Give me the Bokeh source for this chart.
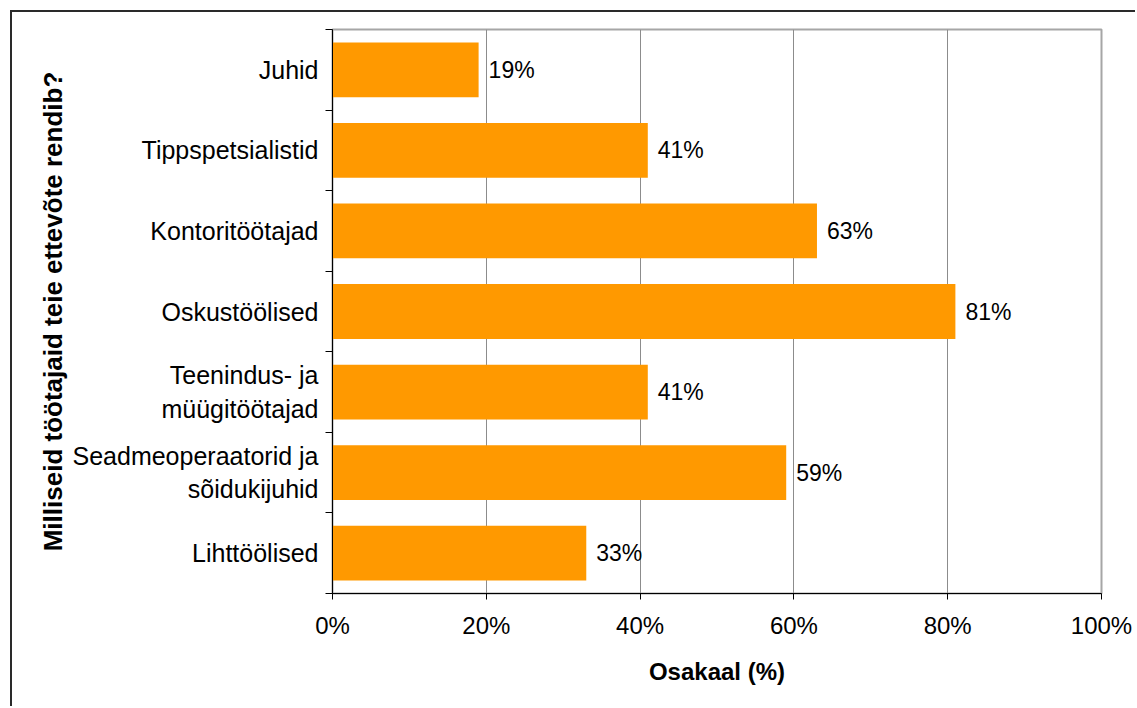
from bokeh.plotting import figure
from bokeh.models import ColumnDataSource, Range1d, FixedTicker, PrintfTickFormatter
from bokeh.core.properties import value
from bokeh.embed import file_html
from bokeh.resources import INLINE

# Employee groups (top to bottom) and the share of firms renting them, in %
categories = [
    "Juhid",
    "Tippspetsialistid",
    "Kontoritöötajad",
    "Oskustöölised",
    "Teenindus- ja\nmüügitöötajad",
    "Seadmeoperaatorid ja\nsõidukijuhid",
    "Lihttöölised",
]
shares = [19, 41, 63, 81, 41, 59, 33]
x_ticks = [0, 20, 40, 60, 80, 100]

FONT = "Liberation Sans"
BAR_COLOR = "#FF9900"

n = len(categories)
pos = [n - 1 - i for i in range(n)]
source = ColumnDataSource(dict(
    pos=pos,
    share=shares,
    label=[f"{s}%" for s in shares],
))

p = figure(
    width=1125, height=696,
    x_range=Range1d(0, 100), y_range=Range1d(-0.5, n - 0.5),
    output_backend="svg", toolbar_location=None,
    min_border_left=320, min_border_right=36,
    min_border_top=17, min_border_bottom=115,
)
p.styles = {
    "margin-left": "10px", "margin-top": "10px",
    "border-left": "2px solid #2a2a2a", "border-top": "2px solid #2a2a2a",
}

p.hbar(y="pos", right="share", left=0, height=0.68, source=source,
       fill_color=BAR_COLOR, line_color=None)

p.text(x="share", y="pos", text="label", source=source,
       x_offset=10, text_align="left", text_baseline="middle",
       text_font=value(FONT), text_font_size="23px", text_color="black")

# x axis
p.xaxis.ticker = FixedTicker(ticks=x_ticks)
p.xaxis.formatter = PrintfTickFormatter(format="%d%%")
p.xaxis.axis_label = "Osakaal (%)"
p.xaxis.axis_label_text_font = FONT
p.xaxis.axis_label_text_font_style = "bold"
p.xaxis.axis_label_text_font_size = "24px"
p.xaxis.axis_label_standoff = 16
p.xaxis.major_label_text_font = FONT
p.xaxis.major_label_text_font_size = "24px"
p.xaxis.major_label_standoff = 12
p.xaxis.major_tick_out = 6
p.xaxis.major_tick_in = 0
p.xaxis.major_tick_line_color = "black"
p.xaxis.minor_tick_line_color = None

# y axis: names at the category centres, tick marks at the boundaries
p.yaxis.ticker = FixedTicker(ticks=pos, minor_ticks=[k - 0.5 for k in range(n + 1)])
p.yaxis.major_label_overrides = {pp: c for pp, c in zip(pos, categories)}
p.yaxis.major_tick_line_color = None
p.yaxis.major_tick_out = 0
p.yaxis.major_tick_in = 0
p.yaxis.minor_tick_out = 7
p.yaxis.minor_tick_in = 0
p.yaxis.minor_tick_line_color = "black"
p.yaxis.major_label_standoff = 7
p.yaxis.major_label_text_font = FONT
p.yaxis.major_label_text_font_size = "25px"
p.yaxis.axis_label = "Milliseid töötajaid teie ettevõte rendib?"
p.yaxis.axis_label_text_font = FONT
p.yaxis.axis_label_text_font_style = "bold"
p.yaxis.axis_label_text_font_size = "26px"
p.yaxis.axis_label_standoff = 2

for ax in (p.xaxis, p.yaxis):
    ax.axis_line_color = "black"
    ax.major_label_text_color = "black"
    ax.axis_label_text_color = "black"

p.xgrid.ticker = FixedTicker(ticks=x_ticks)
p.xgrid.grid_line_color = "#8c8c8c"
p.ygrid.grid_line_color = None
p.outline_line_color = "#a6a6a6"
p.outline_line_width = 2

open("out.html", "w").write(file_html(p, INLINE))
